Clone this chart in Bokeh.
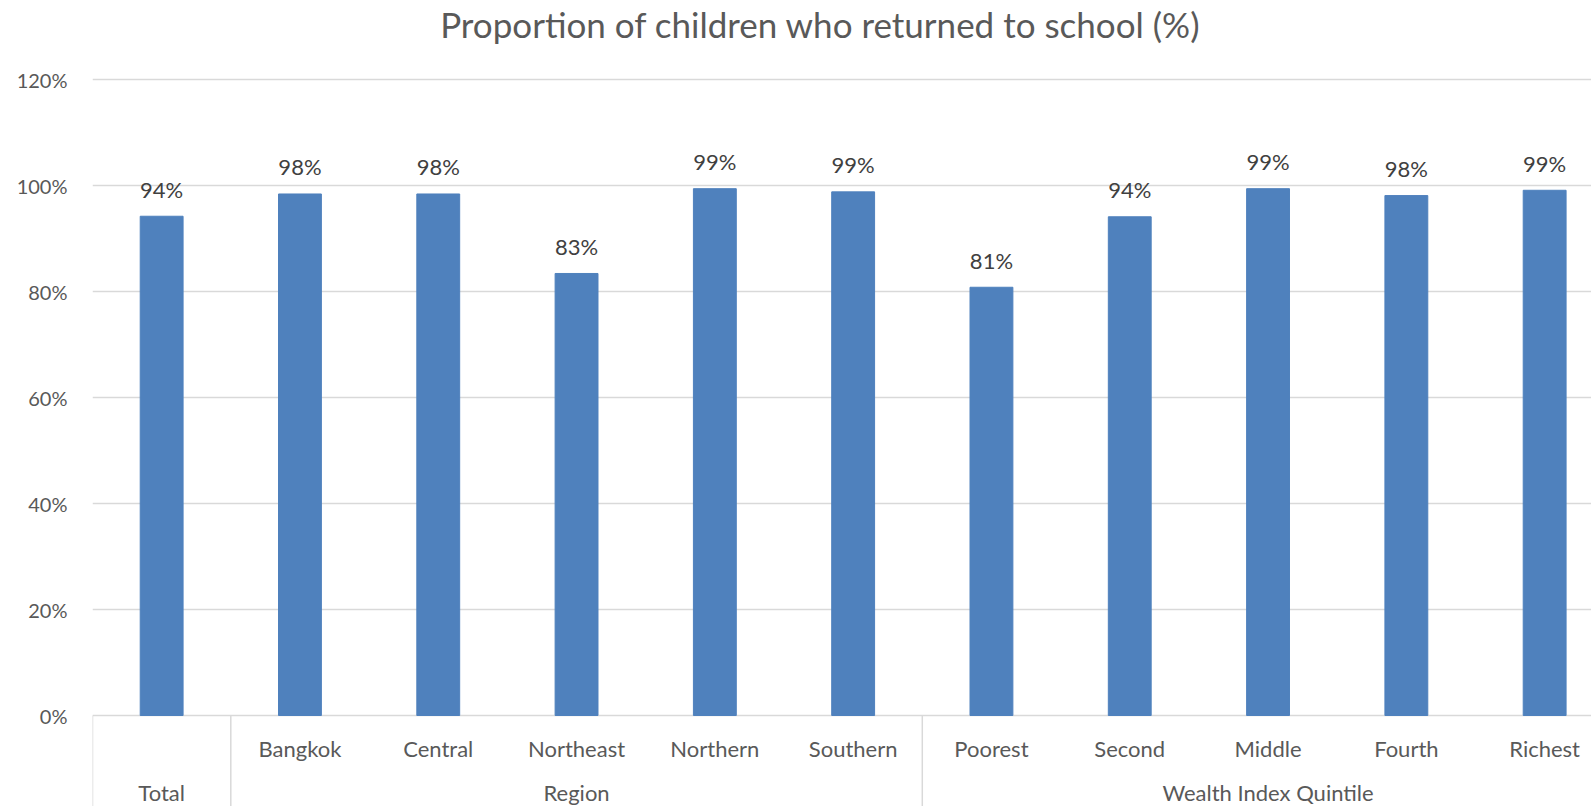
from bokeh.plotting import figure
from bokeh.models import ColumnDataSource, FixedTicker, Label, Range1d
from bokeh.core.properties import value
from bokeh.embed import file_html
from bokeh.resources import INLINE

# ---------------- data ----------------
title_text = "Proportion of children who returned to school (%)"
categories = ["Total", "Bangkok", "Central", "Northeast", "Northern", "Southern",
              "Poorest", "Second", "Middle", "Fourth", "Richest"]
sub_labels = ["", "Bangkok", "Central", "Northeast", "Northern", "Southern",
              "Poorest", "Second", "Middle", "Fourth", "Richest"]
groups = ["Total", "Region", "Region", "Region", "Region", "Region",
          "Wealth Index Quintile", "Wealth Index Quintile", "Wealth Index Quintile",
          "Wealth Index Quintile", "Wealth Index Quintile"]
values = [94.2, 98.4, 98.4, 83.4, 99.4, 98.8, 80.8, 94.1, 99.4, 98.1, 99.1]
y_ticks = [0, 20, 40, 60, 80, 100, 120]

# ---------------- layout constants (pixels) ----------------
W, H = 1591, 806
LEFT = 92            # frame left inside figure
UNIT_X = 138.3       # px per category
UNIT_Y = 5.30        # px per percent
ZERO_Y = 715         # figure px (from top) of the 0% line

FONT = value("Lato")
TEXT = "#595959"
GRID = "#D9D9D9"
BAR = "#4F81BD"

x_range = Range1d(-0.5, -0.5 + (W - LEFT) / UNIT_X)
y_range = Range1d(-(H - ZERO_Y) / UNIT_Y, ZERO_Y / UNIT_Y)

p = figure(width=W, height=H, x_range=x_range, y_range=y_range,
           output_backend="svg", toolbar_location=None,
           x_axis_location=None, y_axis_location="left",
           min_border_left=LEFT, min_border_right=0,
           min_border_top=0, min_border_bottom=0)
p.outline_line_color = None
p.background_fill_color = "white"
p.border_fill_color = "white"

# y axis
yax = p.yaxis[0]
yax.ticker = FixedTicker(ticks=y_ticks)
yax.major_label_overrides = {t: f"{t}%" for t in y_ticks}
yax.axis_line_color = None
yax.major_tick_line_color = None
yax.minor_tick_line_color = None
yax.major_label_standoff = 19
yax.major_label_text_font = "Lato"
yax.major_label_text_font_size = "20px"
yax.major_label_text_color = TEXT

p.ygrid.ticker = FixedTicker(ticks=y_ticks)
p.ygrid.grid_line_color = GRID
p.ygrid.grid_line_width = 1.5
p.xgrid.visible = False

xs = list(range(len(categories)))
src = ColumnDataSource(dict(
    x=xs, v=values, cat=categories, sub=sub_labels,
    lbl=[f"{round(v)}%" for v in values],
    zero=[0] * len(values),
))

p.vbar(x="x", top="v", width=0.31, source=src, fill_color=BAR, line_color=BAR)

# data labels
p.text(x="x", y="v", text="lbl", source=src, text_align="center",
       text_baseline="alphabetic", y_offset=-27, text_font=FONT,
       text_font_size="22px", text_color="#404040")

# level-1 category labels
p.text(x="x", y="zero", text="sub", source=src, text_align="center",
       text_baseline="middle", y_offset=33, text_font=FONT,
       text_font_size="22px", text_color=TEXT)

# level-2 group labels and separators
group_names = []
for g in groups:
    if g not in group_names:
        group_names.append(g)
g_idx = [[i for i, g in enumerate(groups) if g == name] for name in group_names]
g_centers = [sum(ix) / len(ix) for ix in g_idx]
g_starts = [min(ix) - 0.5 for ix in g_idx]

gsrc = ColumnDataSource(dict(x=g_centers, name=group_names, zero=[0] * len(group_names)))
p.text(x="x", y="zero", text="name", source=gsrc, text_align="center",
       text_baseline="middle", y_offset=77, text_font=FONT,
       text_font_size="22px", text_color=TEXT)

p.segment(x0=g_starts, y0=[0] * len(g_starts), x1=g_starts,
          y1=[y_range.start] * len(g_starts), line_color=GRID, line_width=1.5)

# title
title_x = -0.5 + (820 - LEFT) / UNIT_X
title_y = (ZERO_Y - 23) / UNIT_Y
p.add_layout(Label(x=title_x, y=title_y, text=title_text, text_align="center",
                   text_baseline="middle", text_font="Lato", text_font_size="35px",
                   text_color=TEXT))

open("out.html", "w").write(file_html(p, INLINE))
